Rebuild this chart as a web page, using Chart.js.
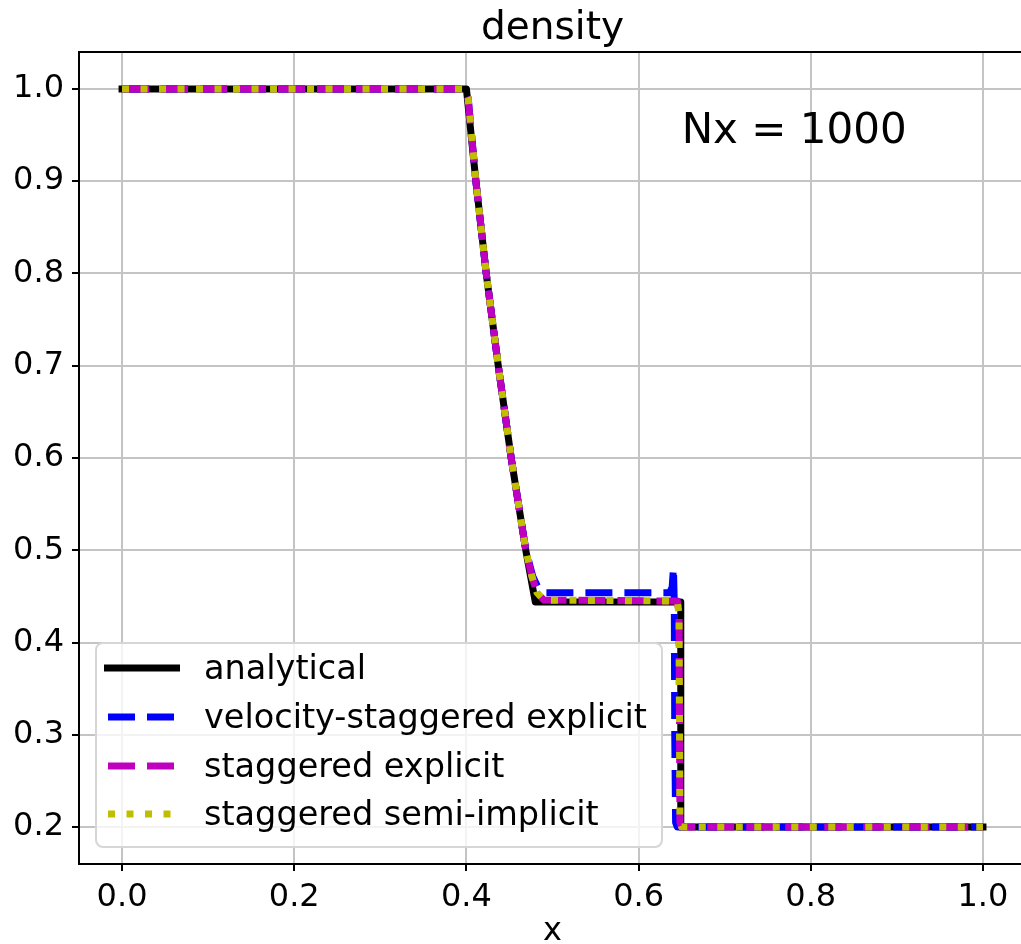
<!DOCTYPE html>
<html>
<head>
<meta charset="utf-8">
<title>density</title>
<script src="https://cdn.jsdelivr.net/npm/chart.js@4.4.1/dist/chart.umd.min.js"></script>
<style>
    html, body { margin: 0; padding: 0; background: #fff; overflow: hidden; }
    canvas { display: block; }
</style>
</head>
<body>
<canvas id="densityChart" width="1030" height="944" style="width:1030px;height:944px"></canvas>
<script>
// --- Dữ liệu ---
const xAnalytical = [0.0, 0.400, 0.411, 0.423, 0.437, 0.452, 0.469, 0.480, 0.649, 0.649, 1.0];
const rhoAnalytical = [1.0, 1.0, 0.9, 0.8, 0.7, 0.6, 0.5, 0.444, 0.444, 0.2, 0.2];

const xVelStag = [0.0, 0.398, 0.402, 0.411, 0.423, 0.437, 0.452, 0.469, 0.477, 0.484, 0.492, 0.636, 0.639, 0.6405, 0.6415, 0.642, 0.643, 0.645, 1.0];
const rhoVelStag = [1.0, 1.0, 0.99, 0.9, 0.8, 0.7, 0.6, 0.5, 0.472, 0.458, 0.454, 0.454, 0.46, 0.481, 0.44, 0.3, 0.205, 0.2, 0.2];

const xStagExp = [0.0, 0.398, 0.402, 0.411, 0.423, 0.437, 0.452, 0.469, 0.476, 0.482, 0.490, 0.645, 0.647, 0.648, 0.650, 1.0];
const rhoStagExp = [1.0, 1.0, 0.99, 0.9, 0.8, 0.7, 0.6, 0.5, 0.472, 0.454, 0.446, 0.445, 0.43, 0.205, 0.2, 0.2];

const xStagSemi = [0.0, 0.398, 0.402, 0.411, 0.423, 0.437, 0.452, 0.469, 0.476, 0.482, 0.490, 0.645, 0.647, 0.648, 0.650, 1.0];
const rhoStagSemi = [1.0, 1.0, 0.99, 0.9, 0.8, 0.7, 0.6, 0.5, 0.472, 0.454, 0.446, 0.445, 0.43, 0.205, 0.2, 0.2];

const xTicks = [0.0, 0.2, 0.4, 0.6, 0.8, 1.0];
const yTicks = [0.2, 0.3, 0.4, 0.5, 0.6, 0.7, 0.8, 0.9, 1.0];

const seriesLabels = ['analytical', 'velocity-staggered explicit', 'staggered explicit', 'staggered semi-implicit'];
const annotationText = 'Nx = 1000';

const FONT = '"DejaVu Sans", sans-serif';

let myDensityChart = null;

// ghép x, y thành điểm cho Chart.js
function toPoints(xs, ys) {
    return xs.map((x, i) => ({ x: x, y: ys[i] }));
}

// --- Plugin vẽ tiêu đề, nhãn x, chú thích và khung trên ---
const decorPlugin = {
    id: 'decor',
    afterDraw(chart) {
        const ctx = chart.ctx;
        const area = chart.chartArea;
        const xs = chart.scales.x;
        const ys = chart.scales.y;
        ctx.save();

        // viền trên
        ctx.strokeStyle = '#000';
        ctx.lineWidth = 2;
        ctx.beginPath();
        ctx.moveTo(area.left, area.top);
        ctx.lineTo(area.right, area.top);
        ctx.stroke();

        ctx.fillStyle = '#000';
        ctx.textAlign = 'center';
        ctx.textBaseline = 'alphabetic';
        ctx.font = '39px ' + FONT;
        ctx.fillText('density', (area.left + area.right) / 2, 39);

        ctx.font = '32px ' + FONT;
        ctx.fillText('x', (area.left + area.right) / 2, 940);

        // chữ Nx
        ctx.textAlign = 'left';
        ctx.font = '42px ' + FONT;
        ctx.fillText(annotationText, xs.getPixelForValue(0.65), ys.getPixelForValue(0.9415));

        // chú thích (legend)
        const box = { left: 96, top: 643, right: 662, bottom: 847, r: 7 };
        ctx.beginPath();
        ctx.roundRect(box.left, box.top, box.right - box.left, box.bottom - box.top, box.r);
        ctx.fillStyle = 'rgba(255,255,255,0.8)';
        ctx.fill();
        ctx.strokeStyle = '#d6d6d6';
        ctx.lineWidth = 2;
        ctx.stroke();

        const rowY = [668, 717, 766, 814];
        ctx.font = '33.5px ' + FONT;
        ctx.textBaseline = 'middle';
        chart.data.datasets.forEach((ds, k) => {
            const y = rowY[k];
            ctx.save();
            ctx.strokeStyle = ds.borderColor;
            ctx.lineWidth = ds.borderWidth;
            ctx.lineCap = 'butt';
            ctx.setLineDash(ds.borderDash || []);
            ctx.beginPath();
            ctx.moveTo(ds.borderDash && ds.borderDash.length ? 108 : 104, y);
            ctx.lineTo(180, y);
            ctx.stroke();
            ctx.restore();
            ctx.fillStyle = '#000';
            ctx.fillText(ds.label, 204, y + 2);
        });

        ctx.restore();
    }
};

// --- Hàm vẽ biểu đồ ---
function drawChart() {
    if (myDensityChart) {
        myDensityChart.destroy();
    }

    const ctx = document.getElementById('densityChart').getContext('2d');

    myDensityChart = new Chart(ctx, {
        type: 'line',
        data: {
            datasets: [
                {
                    label: seriesLabels[0],
                    data: toPoints(xAnalytical, rhoAnalytical),
                    borderColor: '#000000',
                    borderWidth: 7,
                    borderCapStyle: 'square',
                    order: 3
                },
                {
                    label: seriesLabels[1],
                    data: toPoints(xVelStag, rhoVelStag),
                    borderColor: '#0000ff',
                    borderWidth: 7,
                    borderDash: [27, 12],
                    order: 2
                },
                {
                    label: seriesLabels[2],
                    data: toPoints(xStagExp, rhoStagExp),
                    borderColor: '#bf00bf',
                    borderWidth: 7,
                    borderDash: [27, 12],
                    order: 1
                },
                {
                    label: seriesLabels[3],
                    data: toPoints(xStagSemi, rhoStagSemi),
                    borderColor: '#bfbf00',
                    borderWidth: 7,
                    borderDash: [7, 11.5],
                    order: 0
                }
            ]
        },
        options: {
            responsive: false,
            animation: false,
            devicePixelRatio: 1,
            layout: { padding: { top: 52, left: 0, right: 4, bottom: 0 } },
            elements: {
                point: { radius: 0 },
                line: { tension: 0, borderJoinStyle: 'round', fill: false }
            },
            plugins: {
                legend: { display: false },
                tooltip: { enabled: false }
            },
            scales: {
                x: {
                    type: 'linear',
                    min: -0.05,
                    max: 1.05,
                    afterFit: (scale) => { scale.height = 80; },
                    afterBuildTicks: (scale) => { scale.ticks = xTicks.map(v => ({ value: v })); },
                    grid: { color: '#c4c4c4', lineWidth: 2, tickColor: '#000', tickLength: 7, tickWidth: 2 },
                    border: { color: '#000', width: 2 },
                    ticks: {
                        color: '#000',
                        font: { family: FONT, size: 32 },
                        padding: 7,
                        maxRotation: 0,
                        callback: (v) => Number(v).toFixed(1)
                    }
                },
                y: {
                    type: 'linear',
                    min: 0.16,
                    max: 1.04,
                    afterFit: (scale) => { scale.width = 79; },
                    afterBuildTicks: (scale) => { scale.ticks = yTicks.map(v => ({ value: v })); },
                    grid: { color: '#c4c4c4', lineWidth: 2, tickColor: '#000', tickLength: 7, tickWidth: 2 },
                    border: { color: '#000', width: 2 },
                    ticks: {
                        color: '#000',
                        font: { family: FONT, size: 32 },
                        padding: 8,
                        callback: (v) => Number(v).toFixed(1)
                    }
                }
            }
        },
        plugins: [decorPlugin]
    });
}

drawChart();
</script>
</body>
</html>
